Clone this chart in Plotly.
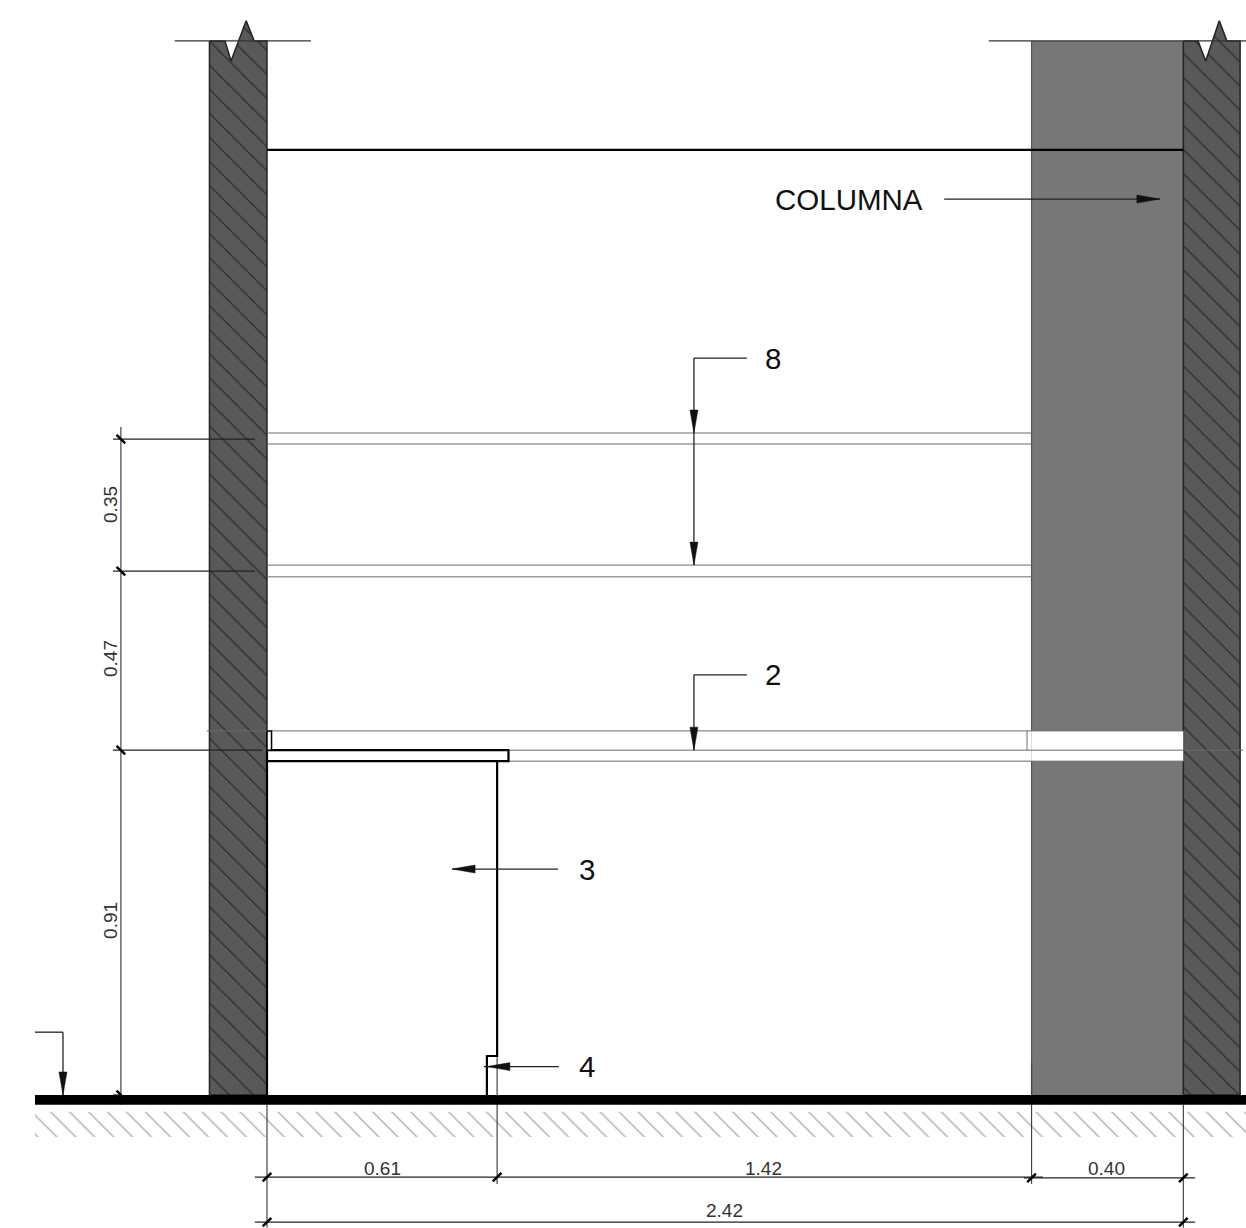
import plotly.graph_objects as go

# Section drawing, all values in metres (x from the left wall face, y from the floor)
PX_PER_M = 378.5
WIDTH, HEIGHT = 1246, 1228
X_MIN = -0.7054
Y_MAX = 2.8930

# Building outlines
left_wall_x = [-0.152, -0.111, -0.095, -0.055, -0.034, 0.0, 0.0, -0.152, -0.152]
left_wall_y = [2.785, 2.785, 2.732, 2.838, 2.785, 2.785, 0.0, 0.0, 2.785]
right_wall_x = [2.421, 2.460, 2.480, 2.516, 2.536, 2.571, 2.571, 2.421, 2.421]
right_wall_y = [2.785, 2.785, 2.732, 2.838, 2.785, 2.785, 0.0, 0.0, 2.785]
column_x = [2.020, 2.421, 2.421, 2.020, 2.020]
column_y = [2.785, 2.785, 0.0, 0.0, 2.785]
opening_x = [2.020, 2.421, 2.421, 2.020, 2.020]
opening_y = [0.962, 0.962, 0.882, 0.882, 0.962]
floor_x = [-0.613, 2.587, 2.587, -0.613, -0.613]
floor_y = [0.0, 0.0, -0.026, -0.026, 0.0]
ground_x = [-0.613, 2.587, 2.587, -0.613, -0.613]
ground_y = [-0.044, -0.044, -0.111, -0.111, -0.044]
counter_x = [0.0, 0.638, 0.638, 0.0, 0.0]
counter_y = [0.911, 0.911, 0.882, 0.882, 0.911]
upstand_x = [0.0, 0.012, 0.012, 0.0, 0.0]
upstand_y = [0.962, 0.962, 0.911, 0.911, 0.962]
cabinet_x = [0.0, 0.0, None, 0.608, 0.608, 0.581, 0.581]
cabinet_y = [0.882, 0.0, None, 0.882, 0.103, 0.103, 0.0]
ceiling_x = [0.0, 2.421]
ceiling_y = [2.497, 2.497]

# Thin lines (x0, y0, x1, y1)
top_lines = [(-0.244, 2.785, 0.116, 2.785), (1.907, 2.785, 2.587, 2.785)]
shelf_lines = [
    (0.0, 1.749, 2.020, 1.749), (0.0, 1.720, 2.020, 1.720),
    (0.0, 1.400, 2.020, 1.400), (0.0, 1.369, 2.020, 1.369),
    (-0.159, 0.962, 0.0, 0.962), (0.012, 0.962, 2.421, 0.962),
    (0.638, 0.911, 2.579, 0.911), (0.638, 0.882, 2.421, 0.882),
    (2.008, 0.962, 2.008, 0.911),
]
leader_lines = [
    (-0.407, 1.733, -0.032, 1.733), (-0.407, 1.384, -0.032, 1.384),
    (-0.407, 0.911, -0.013, 0.911), (-0.407, 0.0, -0.386, 0.0),
    (-0.032, -0.217, 2.050, -0.217), (2.000, -0.219, 2.452, -0.219),
    (-0.032, -0.336, 2.452, -0.336),
]
extension_lines = [
    (-0.386, 1.765, -0.386, -0.026),
    (0.0, -0.026, 0.0, -0.351), (0.608, 0.100, 0.608, -0.235),
    (2.020, 0.085, 2.020, -0.235), (2.421, -0.026, 2.421, -0.351),
]
column_edge = [(2.020, 2.785, 2.020, 0.962), (2.020, 0.882, 2.020, 0.0)]
arrow_lines = [
    (1.268, 1.947, 1.128, 1.947), (1.128, 1.947, 1.128, 1.400),
    (1.268, 1.110, 1.128, 1.110), (1.128, 1.110, 1.128, 0.911),
    (0.769, 0.597, 0.489, 0.597), (0.771, 0.075, 0.573, 0.075),
    (1.789, 2.367, 2.359, 2.367),
    (-0.613, 0.166, -0.539, 0.166), (-0.539, 0.166, -0.539, 0.0),
]

# Arrow tips: x, y, direction
arrow_tips = [
    (1.128, 1.749, "down"), (1.128, 1.400, "down"), (1.128, 0.911, "down"),
    (0.489, 0.597, "left"), (0.581, 0.075, "left"), (2.359, 2.367, "right"),
    (-0.539, 0.0, "down"),
]
# Dimension ticks: x, y, slant
ticks_back = [(-0.386, 1.733), (-0.386, 1.384), (-0.386, 0.911), (-0.386, 0.0)]
ticks_fwd = [(0.0, -0.217), (0.608, -0.217), (2.020, -0.219), (2.421, -0.219),
             (0.0, -0.336), (2.421, -0.336)]

# Labels
h_dim_labels = ["0.61", "1.42", "0.40", "2.42"]
h_dim_x = [0.304, 1.313, 2.219, 1.210]
h_dim_y = [-0.193, -0.193, -0.193, -0.306]
v_dim_labels = ["0.35", "0.47", "0.91"]
v_dim_x = [-0.412, -0.412, -0.412]
v_dim_y = [1.559, 1.152, 0.460]
call_labels = ["COLUMNA", "8", "2", "3", "4"]
call_x = [1.538, 1.337, 1.337, 0.845, 0.845]
call_y = [2.367, 1.947, 1.110, 0.597, 0.074]

WALL = "#595959"
COLUMN = "#777777"
INK = "#000000"
GREY = "#6a6a6a"
DIM = "#333333"
HEAD_LEN = 23 / PX_PER_M
HEAD_HALF = 4 / PX_PER_M
TICK_HALF = 4.3 / PX_PER_M
FONT = "Liberation Sans"


def seg_xy(segs):
    xs, ys = [], []
    for x0, y0, x1, y1 in segs:
        xs += [x0, x1, None]
        ys += [y0, y1, None]
    return xs, ys


def line(xs, ys, color, width):
    return go.Scatter(x=xs, y=ys, mode="lines", line=dict(color=color, width=width),
                      hoverinfo="skip", showlegend=False)


def segs(items, color, width):
    xs, ys = seg_xy(items)
    return line(xs, ys, color, width)


def fill(xs, ys, color, lw=0, lc=None, pattern=None):
    kw = dict(fillpattern=pattern) if pattern else {}
    return go.Scatter(x=xs, y=ys, mode="lines", fill="toself", fillcolor=color,
                      line=dict(color=lc or color, width=lw), hoverinfo="skip",
                      showlegend=False, **kw)


def head_xy(tip):
    x, y, d = tip
    if d == "down":
        return [x, x - HEAD_HALF, x + HEAD_HALF, x, None], [y, y + HEAD_LEN, y + HEAD_LEN, y, None]
    if d == "left":
        return [x, x + HEAD_LEN, x + HEAD_LEN, x, None], [y, y + HEAD_HALF, y - HEAD_HALF, y, None]
    return [x, x - HEAD_LEN, x - HEAD_LEN, x, None], [y, y + HEAD_HALF, y - HEAD_HALF, y, None]


wall_pattern = dict(shape="\\", size=17, solidity=0.07, fgcolor="#000000", bgcolor=WALL)
ground_pattern = dict(shape="\\", size=13.4, solidity=0.12, fgcolor="#7a7a7a", bgcolor="#ffffff")

fig = go.Figure()
fig.add_trace(fill(column_x, column_y, COLUMN))
fig.add_trace(fill(left_wall_x, left_wall_y, WALL, 1.5, "#222222", wall_pattern))
fig.add_trace(fill(right_wall_x, right_wall_y, WALL, 1.5, "#222222", wall_pattern))
fig.add_trace(fill(opening_x, opening_y, "#ffffff"))
fig.add_trace(fill(ground_x, ground_y, "#ffffff", 0, "#ffffff", ground_pattern))
fig.add_trace(segs(column_edge, "#555555", 1.2))
fig.add_trace(segs(shelf_lines, GREY, 1))
fig.add_trace(segs(top_lines, "#333333", 1.3))
fig.add_trace(fill(counter_x, counter_y, "#ffffff", 2.2, INK))
fig.add_trace(fill(upstand_x, upstand_y, "#ffffff", 1.5, INK))
fig.add_trace(line(cabinet_x, cabinet_y, INK, 2.2))
fig.add_trace(line(ceiling_x, ceiling_y, INK, 2.2))
fig.add_trace(segs(extension_lines, "#444444", 1.2))
fig.add_trace(segs(leader_lines, "#222222", 1.2))
fig.add_trace(segs(arrow_lines, "#222222", 1.3))

hx, hy = [], []
for t in arrow_tips:
    a, b = head_xy(t)
    hx += a
    hy += b
fig.add_trace(go.Scatter(x=hx, y=hy, mode="lines", fill="toself", fillcolor="#111111",
                         line=dict(color="#111111", width=0.5), hoverinfo="skip", showlegend=False))

back = [(x - TICK_HALF, y + TICK_HALF, x + TICK_HALF, y - TICK_HALF) for x, y in ticks_back]
fwd = [(x - TICK_HALF, y - TICK_HALF, x + TICK_HALF, y + TICK_HALF) for x, y in ticks_fwd]
fig.add_trace(segs(back + fwd, INK, 2.5))
fig.add_trace(fill(floor_x, floor_y, INK))

for t, x, y in zip(h_dim_labels, h_dim_x, h_dim_y):
    fig.add_annotation(x=x, y=y, text=t, showarrow=False, font=dict(family=FONT, size=19, color=DIM))
for t, x, y in zip(v_dim_labels, v_dim_x, v_dim_y):
    fig.add_annotation(x=x, y=y, text=t, showarrow=False, textangle=-90,
                       font=dict(family=FONT, size=19, color=DIM))
for t, x, y in zip(call_labels, call_x, call_y):
    fig.add_annotation(x=x, y=y, text=t, showarrow=False, font=dict(family=FONT, size=29.5, color="#111111"))

fig.update_layout(
    width=WIDTH, height=HEIGHT, margin=dict(l=0, r=0, t=0, b=0),
    paper_bgcolor="#ffffff", plot_bgcolor="#ffffff", showlegend=False,
    xaxis=dict(visible=False, range=[X_MIN, X_MIN + WIDTH / PX_PER_M], fixedrange=True),
    yaxis=dict(visible=False, range=[Y_MAX - HEIGHT / PX_PER_M, Y_MAX], fixedrange=True),
)
fig.write_html("out.html", config=dict(displayModeBar=False),
               post_script="document.body.style.margin='0';document.body.style.overflow='hidden';")
